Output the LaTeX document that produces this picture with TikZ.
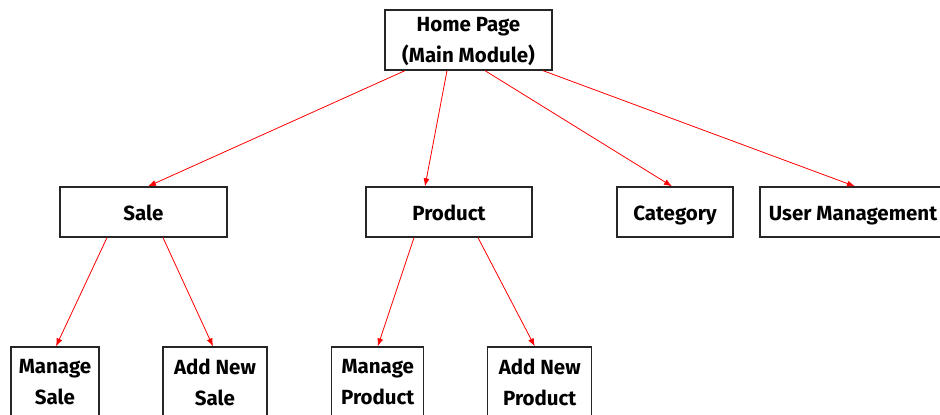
\documentclass[tikz,border=0pt]{standalone}
\usepackage{fontspec}
\setmainfont{Fira Sans}
\usetikzlibrary{arrows.meta}
\tikzset{
  box/.style={draw=black!85, line width=1.3pt, fill=white, align=center, inner sep=0pt,
    font=\fontsize{20.5}{31}\selectfont\bfseries},
  one/.style={text height=18pt, text depth=2pt},
  link/.style={draw=red, line width=0.8pt, -{Latex[length=8pt,width=6pt]}}
}
\begin{document}
\begin{tikzpicture}[x=1pt,y=-1pt]
\useasboundingbox[fill=white] (0,0) rectangle (940,415);
\node[box, minimum width=167pt, minimum height=60pt, text depth=0pt] (home) at (468.5,40) {Home Page\\(Main Module)};
\node[box, one, minimum width=167pt, minimum height=50pt] (sale) at (143.5,212) {Sale};
\node[box, one, minimum width=166pt, minimum height=50pt] (product) at (449,212) {Product};
\node[box, one, minimum width=116pt, minimum height=50pt] (category) at (675,212) {Category};
\node[box, one, minimum width=186pt, minimum height=50pt] (user) at (853,212) {User Management};
\node[box, minimum width=88pt, minimum height=71pt] (msale) at (55,382.5) {Manage\\Sale};
\node[box, minimum width=104pt, minimum height=71pt] (asale) at (215,382.5) {Add New\\Sale};
\node[box, minimum width=92pt, minimum height=71pt] (mprod) at (377.75,382.5) {Manage\\Product};
\node[box, minimum width=104pt, minimum height=71pt] (aprod) at (539.75,382.5) {Add New\\Product};
\draw[link] ([xshift=-63.5pt]home.south) -- ([xshift=4.5pt]sale.north);
\draw[link] ([xshift=-21.5pt]home.south) -- ([xshift=-24pt]product.north);
\draw[link] ([xshift=16.5pt]home.south) -- ([xshift=-3pt]category.north);
\draw[link] ([xshift=74.5pt]home.south) -- ([xshift=2pt]user.north);
\draw[link] ([xshift=-36.5pt]sale.south) -- ([xshift=1pt]msale.north);
\draw[link] ([xshift=19.5pt]sale.south) -- ([xshift=-2pt]asale.north);
\draw[link] ([xshift=-35pt]product.south) -- ([xshift=0pt]mprod.north);
\draw[link] ([xshift=29pt]product.south) -- ([xshift=-5pt]aprod.north);
\end{tikzpicture}
\end{document}
